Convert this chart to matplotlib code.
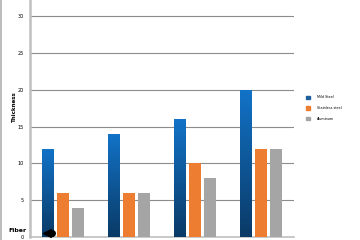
import matplotlib
matplotlib.use("Agg")
import matplotlib.pyplot as plt
import numpy as np
from matplotlib.colors import LinearSegmentedColormap
from matplotlib.patches import Patch

categories = ["A", "B", "C", "D"]
series = ["Mild Steel", "Stainless steel", "Aluminum"]
mild = [12, 14, 16, 20]
stainless = [6, 6, 10, 12]
aluminum = [4, 6, 8, 12]
yticks = [0, 5, 10, 15, 20, 25, 30]

fig = plt.figure(figsize=(3.6, 2.4), dpi=100)
ax = fig.add_axes([30/360, 1 - 237/240, 264/360, 237/240])

x = np.arange(len(categories))
w = 0.18
off = 0.227
blue_cmap = LinearSegmentedColormap.from_list("b", ["#0a3a66", "#1273c8"])
b1 = ax.bar(x - off, mild, w, color="#1270c2", zorder=3)
b2 = ax.bar(x, stainless, w, color="#ed7d31", zorder=3)
b3 = ax.bar(x + off, aluminum, w, color="#a5a5a5", zorder=3)
grad = np.linspace(0, 1, 256).reshape(-1, 1)
for r in b1:
    x0, y0 = r.get_x(), r.get_y()
    im = ax.imshow(grad, cmap=blue_cmap, origin="lower", aspect="auto",
                   extent=[x0, x0 + r.get_width(), y0, y0 + r.get_height()], zorder=4)
    im.set_clip_path(r)
ax.set_xlim(-0.5, 3.5)
ax.set_ylim(0, 32.2)
ax.set_yticks(yticks)
ax.set_yticklabels([str(t) for t in yticks], fontsize=3.5)
ax.set_xticks([])
ax.tick_params(axis="y", length=0, pad=4.5)
ax.grid(axis="y", color="#8c8c8c", linewidth=0.8, zorder=0)
for s in ["top", "right"]:
    ax.spines[s].set_visible(False)
ax.spines["left"].set_color("#c0c0c0")
ax.spines["left"].set_linewidth(1.8)
ax.spines["bottom"].set_color("#c0c0c0")
ax.spines["bottom"].set_linewidth(1.2)
ax.set_ylabel("Thickness", fontsize=4, fontweight="bold")
ax.yaxis.set_label_coords(-0.05, 0.55)

fig.text(8/360, 1 - 230/240, "Fiber", fontsize=4.5, fontweight="bold", va="center", ha="left")
ax.plot([x[0] - off - 0.02], [0.6], marker="<", color="black", markersize=6, zorder=6, clip_on=False)
ax.plot([x[0] - off + 0.06], [0.6], marker="o", color="black", markersize=4, zorder=6, clip_on=False)

fig.add_artist(plt.Line2D([0.002, 0.002], [0, 1], color="#b0b0b0", linewidth=1.2))

handles = [Patch(color="#1f5f9e"), Patch(color="#ed7d31"), Patch(color="#a5a5a5")]
fig.legend(handles, series, loc="center left", bbox_to_anchor=(304/360, 1 - 108/240),
           frameon=False, fontsize=2.4, handlelength=1.2, handleheight=1.2,
           labelspacing=2.0, handletextpad=2.1, borderpad=0.2)

fig.savefig("out.png", dpi=100)
